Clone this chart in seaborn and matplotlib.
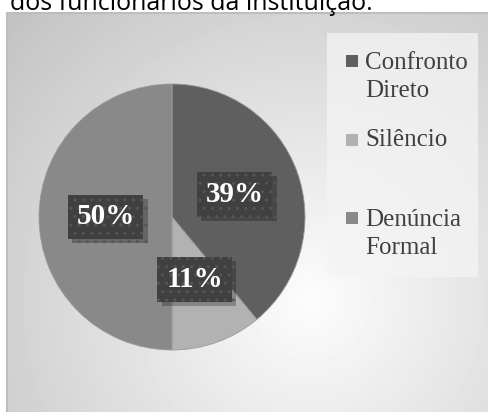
import numpy as np
import matplotlib.pyplot as plt
import seaborn as sns
import matplotlib.patheffects as pe
from matplotlib.patches import Rectangle

# dados do gráfico
categories = ['Confronto\nDireto', 'Silêncio', 'Denúncia\nFormal']
values = [39, 11, 50]
colors = ['#5f5f5f', '#b2b2b2', '#898989']
title = 'dos funcionários da instituição:'

sns.set_theme(style='white')
plt.rcParams['font.family'] = ['Liberation Serif', 'DejaVu Serif']

W, H = 488, 412
fig = plt.figure(figsize=(W / 100, H / 100), dpi=100)
fig.patch.set_facecolor('white')

# fundo com gradiente radial
bg = fig.add_axes([0, 0, 1, 1])
yy, xx = np.mgrid[13:H, 7:W]
d = np.hypot(xx - 310, yy - 300)
shade = 0.99 - 0.23 * d / 417
bg.imshow(shade, cmap='gray', vmin=0, vmax=1, extent=(7, W, H, 13),
          aspect='auto', interpolation='bilinear')
bg.set_xlim(0, W)
bg.set_ylim(H, 0)
bg.axis('off')
bg.plot([7, 7, W], [H, 13, 13], color='#bdbdbd', lw=1.5)
bg.add_patch(Rectangle((327, 33), 151, 244, facecolor='#f4f4f4', alpha=0.75, edgecolor='none'))

# título (cortado no topo, como no original)
fig.text(10 / W, 1 - 10 / H, title, family=['Open Sans', 'DejaVu Sans'], fontsize=18,
         va='baseline', ha='left', color='black')

# pizza
cx, cy, r = 172, 217, 133
ax = fig.add_axes([(cx - r) / W, (H - cy - r) / H, 2 * r / W, 2 * r / H])
wedges, texts, autotexts = ax.pie(
    values, colors=colors, startangle=90, counterclock=False,
    autopct='%1.0f%%', pctdistance=0.5,
    wedgeprops=dict(edgecolor='#9a9a9a', linewidth=0.6),
    textprops=dict(color='white', fontsize=21, fontweight='bold'))
ax.set_xlim(-1, 1)
ax.set_ylim(-1, 1)
for t in autotexts:
    t.set_bbox(dict(boxstyle='square,pad=0.3', facecolor='#404040',
                    edgecolor='#555555', hatch='..', linewidth=0))
    t.get_bbox_patch().set_path_effects(
        [pe.SimplePatchShadow(offset=(3, -3), shadow_rgbFace='black', alpha=0.25), pe.Normal()])

# legenda
line_px = 29
for i, (lab, col) in enumerate(zip(categories, colors)):
    base = 68 + i * 78.5
    n = lab.count('\n')
    bg.add_patch(Rectangle((346, base - 13), 12, 12, facecolor=col, edgecolor='none'))
    bg.text(365, base + n * line_px, lab, fontsize=18, va='baseline', ha='left',
            color='#404040', linespacing=1.35)

fig.savefig('out.png', dpi=100)
